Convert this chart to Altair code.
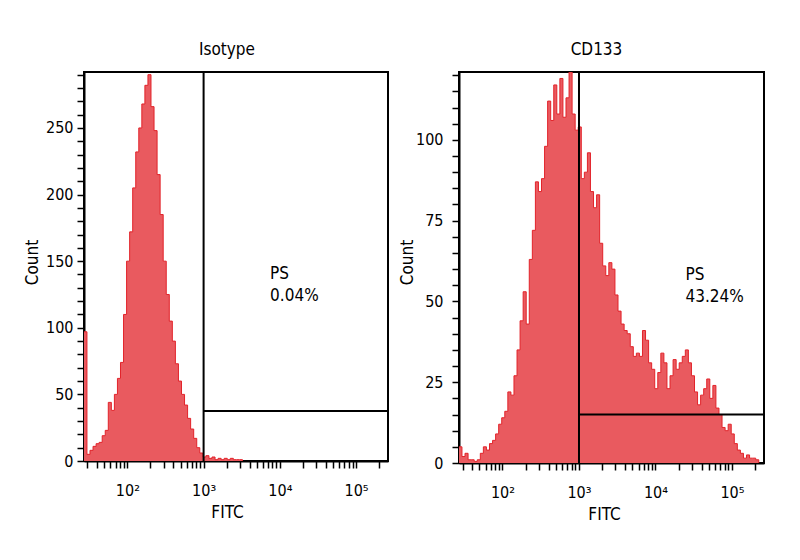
import altair as alt
import pandas as pd

FONT = "DejaVu Sans Condensed"
FS = 16
FILL = "#e95a5f"
LINE = "#e2232a"

# Histogram bins: log10(FITC) start and width of each channel
bin_start_log = 1.43
bin_width_log = 0.04

isotype_counts = [
    97, 5, 8, 11, 13, 14, 19, 23, 44, 38,
    50, 62, 74, 110, 150, 172, 205, 232, 250, 268,
    282, 290, 266, 248, 215, 185, 150, 125, 105, 90,
    73, 60, 50, 42, 32, 24, 17, 10, 6, 3,
    4, 2, 3, 1, 2, 1, 2, 1, 2, 1,
    1, 1, 0, 0, 0, 0, 0, 0, 0, 0,
    0, 0, 0, 0, 0, 0, 0, 0, 0, 0,
    0, 0, 0, 0, 0, 0, 0, 0, 0, 0,
    0, 0, 0, 0, 0, 0, 0, 0, 0, 0,
    0, 0, 0, 0, 0, 0, 0, 0, 0, 0,
]

cd133_counts = [
    5, 2, 3, 1, 1, 0.5, 1, 3, 5, 4,
    6, 7, 9, 12, 14, 16, 22, 21, 27, 35,
    44, 53, 43, 63, 72, 87, 84, 88, 98, 112,
    106, 117, 108, 119, 107, 113, 121, 108, 103, 104,
    88, 90, 96, 84, 79, 83, 68, 61, 58, 62,
    60, 52, 47, 43, 41, 40, 36, 33, 34, 33,
    41, 38, 31, 29, 23, 28, 34, 31, 23, 27,
    32, 29, 31, 33, 35, 31, 27, 22, 18, 21,
    23, 26, 20, 24, 17, 15, 11, 10, 12, 9,
    6, 4, 3, 1.5, 2.5, 1.5, 1.5, 1, 0, 0,
]

x_domain = [27.0, 262144]
x_tick_values = [30, 40, 50, 60, 70, 80, 90,
                 100, 200, 300, 400, 500, 600, 700, 800, 900,
                 1000, 2000, 3000, 4000, 5000, 6000, 7000, 8000, 9000,
                 10000, 20000, 30000, 40000, 50000, 60000, 70000, 80000, 90000,
                 100000, 200000]
x_label_expr = ("datum.value == 100 ? '10²' : datum.value == 1000 ? '10³' : "
                "datum.value == 10000 ? '10⁴' : datum.value == 100000 ? '10⁵' : ''")

panels = [
    dict(title="Isotype", counts=isotype_counts, ymax=292, ystep=10, ylab=50,
         gate_x=1000, gate_y=37.5, ps="PS\n0.04%", ps_x=7450, ps_y=136.3,
         width=304, height=389, title_dx=-9, ylabpad=4, xtitle_x=143),
    dict(title="CD133", counts=cd133_counts, ymax=121, ystep=5, ylab=25,
         gate_x=1000, gate_y=15, ps="PS\n43.24%", ps_x=24660, ps_y=56.7,
         width=305, height=391, title_dx=-15, ylabpad=9, xtitle_x=145),
]


def hist_frame(counts):
    last = max(i for i, c in enumerate(counts) if c > 0)
    rows = []
    for i in range(last + 1):
        rows.append({"x": 10 ** (bin_start_log + bin_width_log * i), "count": counts[i]})
    rows.append({"x": 10 ** (bin_start_log + bin_width_log * (last + 1)), "count": 0})
    return pd.DataFrame(rows)


def make_panel(p):
    xscale = alt.Scale(type="log", domain=x_domain, nice=False)
    yscale = alt.Scale(domain=[0, p["ymax"]], nice=False)
    xaxis = alt.Axis(values=x_tick_values, labelExpr=x_label_expr, title="FITC",
                     tickSize=7, labelPadding=14, grid=False,
                     titleX=p["xtitle_x"], titleY=56, titleBaseline="alphabetic",
                     labelFlush=False, labelOverlap=False)
    yvals = list(range(0, p["ymax"] + 1, p["ystep"]))
    yaxis = alt.Axis(values=yvals,
                     labelExpr="datum.value %% %d == 0 ? datum.label : ''" % p["ylab"],
                     title="Count", tickSize=7, labelPadding=p["ylabpad"], grid=False,
                     titleX=-52, titleY=190, titleAngle=-90, titleBaseline="middle",
                     titleAlign="center", labelOverlap=False, labelFlush=False)
    X = lambda: alt.X("x:Q", scale=xscale, axis=xaxis)
    Y = lambda: alt.Y("count:Q", scale=yscale, axis=yaxis)

    df = hist_frame(p["counts"])
    area = alt.Chart(df).mark_area(
        interpolate="step-after", color=FILL, opacity=1, clip=True,
        line={"color": LINE, "strokeWidth": 1},
    ).encode(x=X(), y=Y())

    vdf = pd.DataFrame({"x": [p["gate_x"]]})
    vrule = alt.Chart(vdf).mark_rule(color="black", strokeWidth=2).encode(x=X())

    hdf = pd.DataFrame({"x": [p["gate_x"]], "x2": [x_domain[1]], "count": [p["gate_y"]]})
    hrule = alt.Chart(hdf).mark_rule(color="black", strokeWidth=2).encode(
        x=X(), x2="x2:Q", y=Y())

    tdf = pd.DataFrame({"x": [p["ps_x"]], "count": [p["ps_y"]], "t": [p["ps"]]})
    text = alt.Chart(tdf).mark_text(
        align="left", baseline="alphabetic", font=FONT, fontSize=FS + 1,
        lineBreak="\n", lineHeight=22, color="black",
    ).encode(x=X(), y=Y(), text="t:N")

    return alt.layer(area, vrule, hrule, text).properties(
        width=p["width"], height=p["height"],
        title=alt.TitleParams(text=p["title"], dx=p["title_dx"], offset=8,
                              font=FONT, fontSize=FS + 1,
                              fontWeight="normal", anchor="middle", color="black"),
    )


chart = alt.hconcat(*[make_panel(p) for p in panels], spacing=7).properties(
    padding={"left": 14, "top": 31, "right": 5, "bottom": 5},
    background="white",
).configure_view(
    stroke="black", strokeWidth=2,
).configure_axis(
    domainColor="black", domainWidth=2, tickColor="black", tickWidth=1.5,
    labelColor="black", labelFont=FONT, labelFontSize=FS,
    titleFont=FONT, titleFontSize=FS + 1, titleFontWeight="normal", titleColor="black",
    labelOverlap=False, zindex=1,
)

chart.save("out.html", embed_options={"renderer": "svg", "actions": False})
